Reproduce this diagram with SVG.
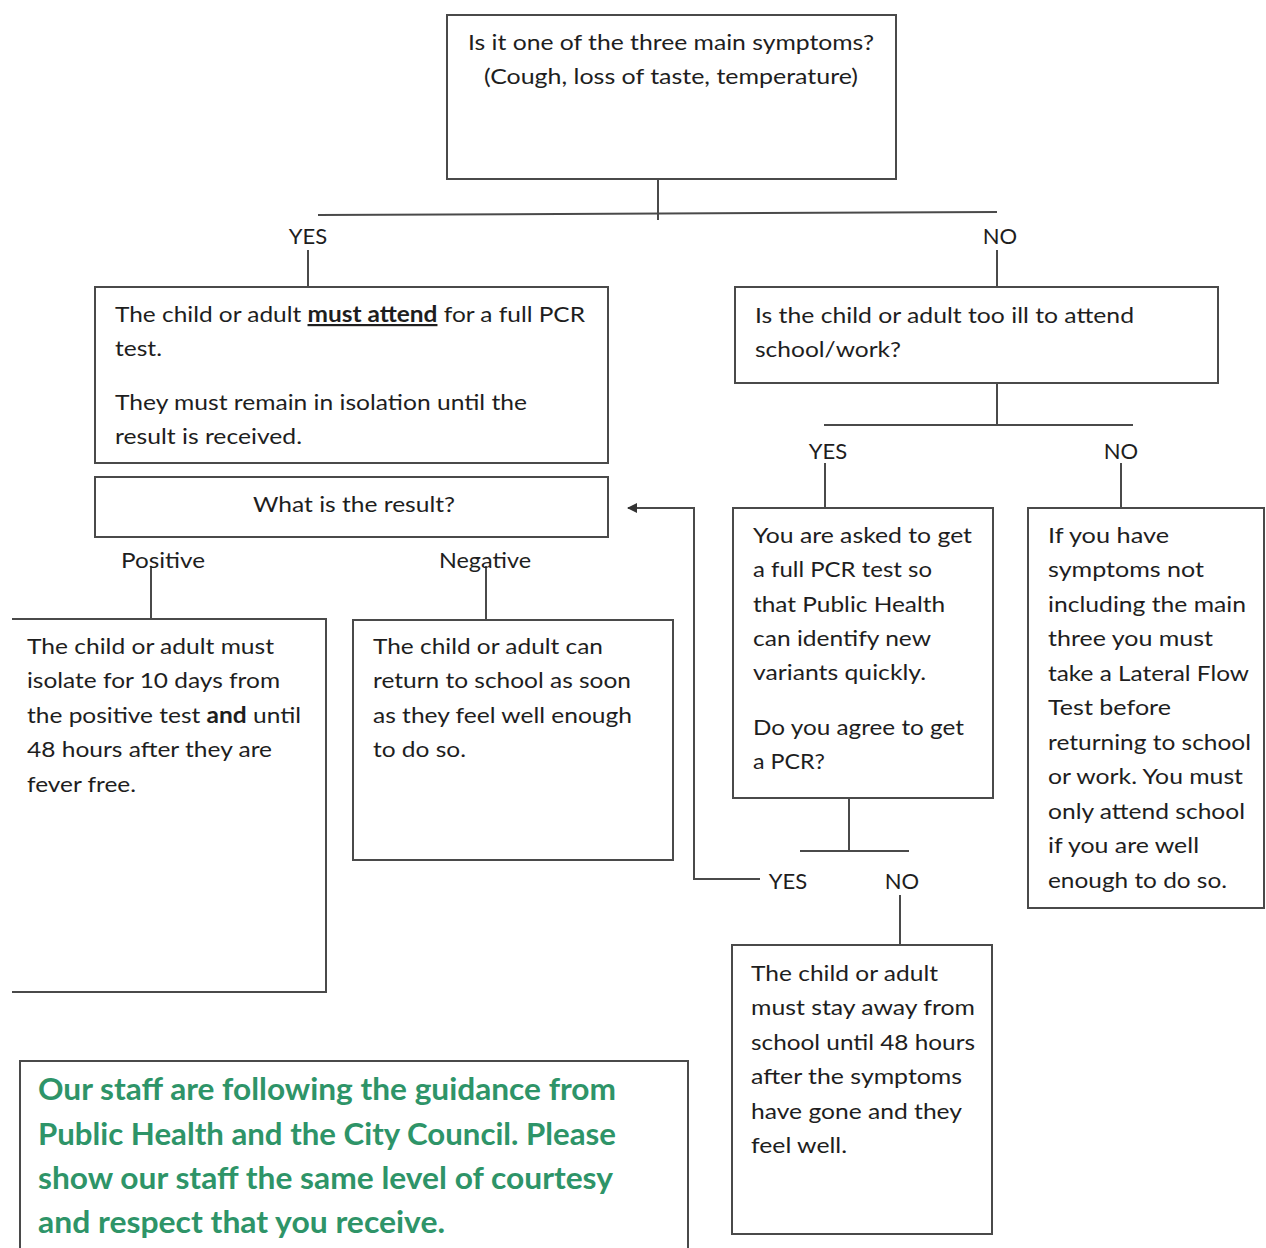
<svg xmlns="http://www.w3.org/2000/svg" width="1266" height="1248" viewBox="0 0 1266 1248">
<style>
.bg{fill:#fff}
.box{fill:#fff;stroke:#4a4a4a;stroke-width:2}
.ln{fill:none;stroke:#4a4a4a;stroke-width:2}
.t{font-family:Lato,"Open Sans","Liberation Sans",sans-serif;font-size:22px;fill:#1e1e1e}
.c{text-anchor:middle}
.g{font-family:Lato,"Open Sans","Liberation Sans",sans-serif;font-size:30px;font-weight:bold;fill:#2e9468}
.b{font-weight:bold}
.u{font-weight:bold;text-decoration:underline}
</style>
<defs>
<marker id="ah" markerWidth="10" markerHeight="10" refX="9" refY="5" orient="auto" markerUnits="userSpaceOnUse">
<path d="M0,0 L10,5 L0,10 Z" fill="#333"/>
</marker>
</defs>
<rect class="bg" x="0" y="0" width="1266" height="1248"/>

<g id="connectors">
<line class="ln" x1="658" y1="179" x2="658" y2="220"/>
<line class="ln" x1="318" y1="215" x2="997" y2="212"/>
<line class="ln" x1="308" y1="250" x2="308" y2="288"/>
<line class="ln" x1="997" y1="250" x2="997" y2="288"/>
<line class="ln" x1="997" y1="383" x2="997" y2="425"/>
<line class="ln" x1="824" y1="425" x2="1133" y2="425"/>
<line class="ln" x1="825" y1="463" x2="825" y2="508"/>
<line class="ln" x1="1121" y1="463" x2="1121" y2="508"/>
<line class="ln" x1="849" y1="798" x2="849" y2="851"/>
<line class="ln" x1="800" y1="851" x2="909" y2="851"/>
<line class="ln" x1="900" y1="895" x2="900" y2="945"/>
<path class="ln" d="M760 879 H694 V508 H628" marker-end="url(#ah)"/>
<line class="ln" x1="151" y1="566" x2="151" y2="619"/>
<line class="ln" x1="486" y1="566" x2="486" y2="620"/>
</g>

<g id="labels">
<text class="t c" x="308" y="244">YES</text>
<text class="t c" x="1000" y="244">NO</text>
<text class="t c" x="828" y="459">YES</text>
<text class="t c" x="1121" y="459">NO</text>
<text class="t c" x="788" y="889">YES</text>
<text class="t c" x="902" y="889">NO</text>
<text class="t c" x="163" y="568" textLength="84" lengthAdjust="spacingAndGlyphs">Positive</text>
<text class="t c" x="485" y="568" textLength="92" lengthAdjust="spacingAndGlyphs">Negative</text>
</g>

<g id="n-main">
<rect class="box" x="447" y="15" width="449" height="164"/>
<text class="t" x="468" y="50" textLength="406" lengthAdjust="spacingAndGlyphs">Is it one of the three main symptoms?</text>
<text class="t" x="484" y="84" textLength="374" lengthAdjust="spacingAndGlyphs">(Cough, loss of taste, temperature)</text>
</g>

<g id="n-pcr">
<rect class="box" x="95" y="287" width="513" height="176"/>
<text class="t" x="115" y="322" textLength="470" lengthAdjust="spacingAndGlyphs">The child or adult <tspan class="u">must attend</tspan> for a full PCR</text>
<text class="t" x="115" y="356" textLength="47" lengthAdjust="spacingAndGlyphs">test.</text>
<text class="t" x="115" y="410" textLength="412" lengthAdjust="spacingAndGlyphs">They must remain in isolation until the</text>
<text class="t" x="115" y="444" textLength="187" lengthAdjust="spacingAndGlyphs">result is received.</text>
</g>

<g id="n-result">
<rect class="box" x="95" y="477" width="513" height="60"/>
<text class="t" x="253" y="512" textLength="202" lengthAdjust="spacingAndGlyphs">What is the result?</text>
</g>

<g id="n-ill">
<rect class="box" x="735" y="287" width="483" height="96"/>
<text class="t" x="755" y="323" textLength="379" lengthAdjust="spacingAndGlyphs">Is the child or adult too ill to attend</text>
<text class="t" x="755" y="357" textLength="146" lengthAdjust="spacingAndGlyphs">school/work?</text>
</g>

<g id="n-ask">
<rect class="box" x="733" y="508" width="260" height="290"/>
<text class="t" x="753" y="543" textLength="219" lengthAdjust="spacingAndGlyphs">You are asked to get</text>
<text class="t" x="753" y="577" textLength="179" lengthAdjust="spacingAndGlyphs">a full PCR test so</text>
<text class="t" x="753" y="612" textLength="192" lengthAdjust="spacingAndGlyphs">that Public Health</text>
<text class="t" x="753" y="646" textLength="178" lengthAdjust="spacingAndGlyphs">can identify new</text>
<text class="t" x="753" y="680" textLength="173" lengthAdjust="spacingAndGlyphs">variants quickly.</text>
<text class="t" x="753" y="735" textLength="211" lengthAdjust="spacingAndGlyphs">Do you agree to get</text>
<text class="t" x="753" y="769" textLength="72" lengthAdjust="spacingAndGlyphs">a PCR?</text>
</g>

<g id="n-lft">
<rect class="box" x="1028" y="508" width="236" height="400"/>
<text class="t" x="1048" y="543" textLength="121" lengthAdjust="spacingAndGlyphs">If you have</text>
<text class="t" x="1048" y="577" textLength="156" lengthAdjust="spacingAndGlyphs">symptoms not</text>
<text class="t" x="1048" y="612" textLength="198" lengthAdjust="spacingAndGlyphs">including the main</text>
<text class="t" x="1048" y="646" textLength="165" lengthAdjust="spacingAndGlyphs">three you must</text>
<text class="t" x="1048" y="681" textLength="201" lengthAdjust="spacingAndGlyphs">take a Lateral Flow</text>
<text class="t" x="1048" y="715" textLength="123" lengthAdjust="spacingAndGlyphs">Test before</text>
<text class="t" x="1048" y="750" textLength="203" lengthAdjust="spacingAndGlyphs">returning to school</text>
<text class="t" x="1048" y="784" textLength="195" lengthAdjust="spacingAndGlyphs">or work. You must</text>
<text class="t" x="1048" y="819" textLength="197" lengthAdjust="spacingAndGlyphs">only attend school</text>
<text class="t" x="1048" y="853" textLength="151" lengthAdjust="spacingAndGlyphs">if you are well</text>
<text class="t" x="1048" y="888" textLength="179" lengthAdjust="spacingAndGlyphs">enough to do so.</text>
</g>

<g id="n-positive">
<path class="box" d="M12 619 H326 V992 H12"/>
<text class="t" x="27" y="654" textLength="247" lengthAdjust="spacingAndGlyphs">The child or adult must</text>
<text class="t" x="27" y="688" textLength="253" lengthAdjust="spacingAndGlyphs">isolate for 10 days from</text>
<text class="t" x="27" y="723" textLength="274" lengthAdjust="spacingAndGlyphs">the positive test <tspan class="b">and</tspan> until</text>
<text class="t" x="27" y="757" textLength="245" lengthAdjust="spacingAndGlyphs">48 hours after they are</text>
<text class="t" x="27" y="792" textLength="109" lengthAdjust="spacingAndGlyphs">fever free.</text>
</g>

<g id="n-negative">
<rect class="box" x="353" y="620" width="320" height="240"/>
<text class="t" x="373" y="654" textLength="230" lengthAdjust="spacingAndGlyphs">The child or adult can</text>
<text class="t" x="373" y="688" textLength="258" lengthAdjust="spacingAndGlyphs">return to school as soon</text>
<text class="t" x="373" y="723" textLength="259" lengthAdjust="spacingAndGlyphs">as they feel well enough</text>
<text class="t" x="373" y="757" textLength="93" lengthAdjust="spacingAndGlyphs">to do so.</text>
</g>

<g id="n-stayaway">
<rect class="box" x="732" y="945" width="260" height="289"/>
<text class="t" x="751" y="981" textLength="187" lengthAdjust="spacingAndGlyphs">The child or adult</text>
<text class="t" x="751" y="1015" textLength="224" lengthAdjust="spacingAndGlyphs">must stay away from</text>
<text class="t" x="751" y="1050" textLength="224" lengthAdjust="spacingAndGlyphs">school until 48 hours</text>
<text class="t" x="751" y="1084" textLength="211" lengthAdjust="spacingAndGlyphs">after the symptoms</text>
<text class="t" x="751" y="1119" textLength="211" lengthAdjust="spacingAndGlyphs">have gone and they</text>
<text class="t" x="751" y="1153" textLength="96" lengthAdjust="spacingAndGlyphs">feel well.</text>
</g>

<g id="n-note">
<path class="box" d="M20 1248 V1061 H688 V1248"/>
<text class="g" x="38" y="1100" textLength="578" lengthAdjust="spacingAndGlyphs">Our staff are following the guidance from</text>
<text class="g" x="38" y="1145" textLength="578" lengthAdjust="spacingAndGlyphs">Public Health and the City Council. Please</text>
<text class="g" x="38" y="1189" textLength="575" lengthAdjust="spacingAndGlyphs">show our staff the same level of courtesy</text>
<text class="g" x="38" y="1233" textLength="407" lengthAdjust="spacingAndGlyphs">and respect that you receive.</text>
</g>
</svg>
